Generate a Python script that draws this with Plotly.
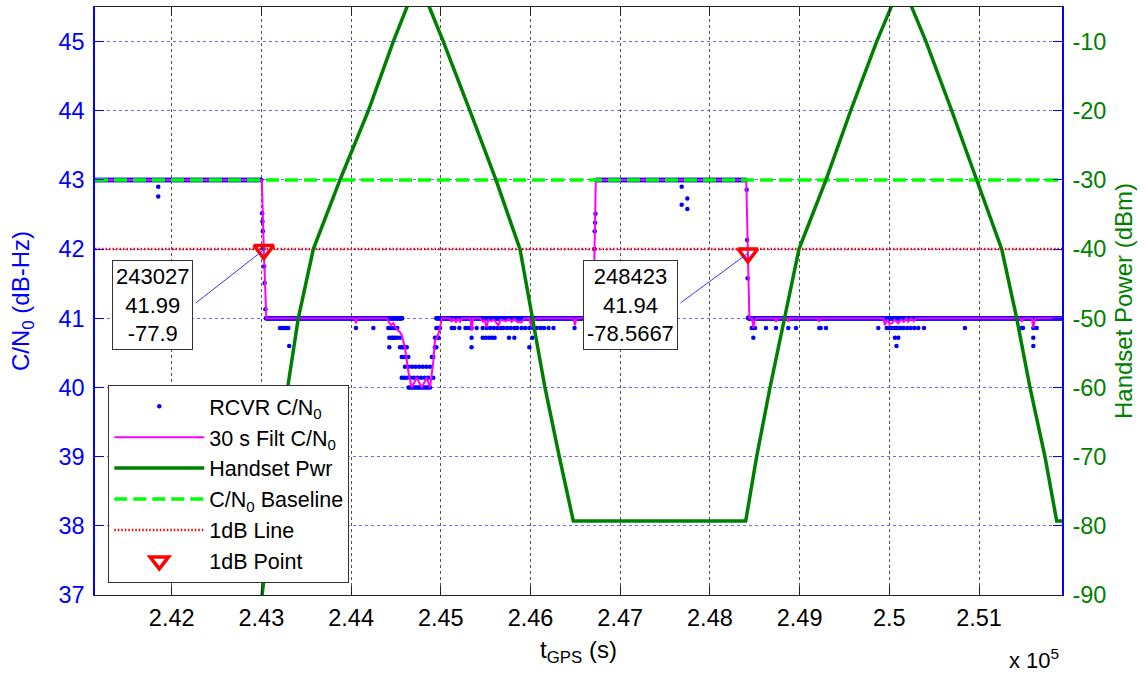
import numpy as np
import plotly.graph_objects as go

# ---------------- data ----------------
t_first, t_last = 241145, 251925          # time span shown (s)

# receiver C/N0: runs at a constant level (start s, end s, dB-Hz)
run_start = [241145, 243050, 244950, 246728, 248428]
run_end   = [243000, 244570, 246700, 248405, 251925]
run_level = [43.0, 41.0, 41.0, 43.0, 41.0]
run_step = 5  # s between plotted samples inside a run

# receiver C/N0: individual samples off the main level
dot_t = [241850, 241850,
         243008, 243012, 243016, 243022, 243030, 243036, 243045,
         243207, 243222, 243244, 243262, 243282, 243300, 243310,
         244054, 244248,
         244415, 244440, 244470, 244490, 244515,
         244426, 244450, 244470, 244490, 244510, 244545,
         244426, 244545, 244564, 244580, 244601, 244620,
         244564, 244590, 244610, 244638,
         244601, 244640, 244680, 244720, 244760, 244800, 244840, 244880,
         244564, 244590, 244620, 244660, 244700, 244740, 244780, 244820, 244860, 244916,
         244640, 244660, 244680, 244700, 244720, 244740, 244760, 244780, 244800, 244820, 244840, 244860, 244880,
         244900, 244916, 244935, 244950, 244935, 244955, 244975, 244950, 244975, 244991,
         245122, 245150, 245207, 245275, 245310, 245343, 245400, 245467, 245510, 245550, 245590,
         245630, 245670, 245700, 245740, 245780, 245820, 245851, 245900, 245940, 245987, 246030,
         246069, 246110, 246150, 246200, 246256, 246491,
         245343, 245467, 245500, 245535, 245570, 245600, 245760, 245820, 246020,
         245343, 245987,
         246705, 246708, 246712, 246716, 246720, 246724,
         247685, 247685, 247748, 247748,
         248410, 248415, 248420, 248428,
         248466, 248484, 248503, 248625, 248737, 248874, 248960, 249219, 249235, 249294,
         249877, 249971, 249990, 250010, 250030, 250063, 250080, 250100, 250130, 250160,
         250200, 250240, 250280, 250323, 250386, 250843, 251476, 251490, 251605, 251643,
         248484, 250063, 250100, 251605,
         250080, 251605]
dot_cn0 = [42.9, 42.76,
           42.52, 42.40, 42.26, 42.01, 41.75, 41.51, 41.13,
           40.86, 40.86, 40.86, 40.86, 40.86, 40.86, 40.6,
           40.86, 40.86,
           40.86, 40.86, 40.86, 40.86, 40.86,
           40.72, 40.72, 40.72, 40.72, 40.72, 40.72,
           40.58, 40.58, 40.58, 40.58, 40.58, 40.58,
           40.44, 40.44, 40.44, 40.44,
           40.30, 40.30, 40.30, 40.30, 40.30, 40.30, 40.30, 40.30,
           40.14, 40.14, 40.14, 40.14, 40.14, 40.14, 40.14, 40.14, 40.14, 40.14,
           40.0, 40.0, 40.0, 40.0, 40.0, 40.0, 40.0, 40.0, 40.0, 40.0, 40.0, 40.0, 40.0,
           40.44, 40.44, 40.58, 40.58, 40.72, 40.72, 40.72, 40.86, 40.86, 40.86,
           40.86, 40.86, 40.86, 40.86, 40.86, 40.86, 40.86, 40.86, 40.86, 40.86, 40.86,
           40.86, 40.86, 40.86, 40.86, 40.86, 40.86, 40.86, 40.86, 40.86, 40.86, 40.86,
           40.86, 40.86, 40.86, 40.86, 40.86, 40.86,
           40.72, 40.72, 40.72, 40.72, 40.72, 40.72, 40.72, 40.72, 40.72,
           40.58, 40.58,
           41.3, 41.6, 42.0, 42.26, 42.38, 42.51,
           42.9, 42.64, 42.73, 42.58,
           42.86, 42.13, 41.58, 41.01,
           40.86, 40.86, 40.86, 40.86, 40.86, 40.86, 40.86, 40.86, 40.86, 40.86,
           40.86, 40.86, 40.86, 40.86, 40.86, 40.86, 40.86, 40.86, 40.86, 40.86,
           40.86, 40.86, 40.86, 40.86, 40.86, 40.86, 40.86, 40.86, 40.86, 40.86,
           40.72, 40.72, 40.72, 40.72,
           40.6, 40.6]

# 30 s filtered C/N0 (polyline vertices)
filt_t = [241145, 243005, 243027, 243055,
          244040, 244054, 244068,
          244400, 244420, 244445, 244470, 244508, 244545, 244564, 244601, 244638, 244675,
          244731, 244787, 244843, 244880, 244916, 244935, 244960, 244983, 245012,
          245100, 245121, 245140, 245170, 245190, 245215, 245235,
          245330, 245343, 245360,
          245440, 245470, 245490, 245509, 245530, 245560, 245590, 245620, 245643, 245665,
          245700, 245730, 245760, 245790, 245820, 245850, 245900, 245930,
          245985, 246005, 246025, 246045, 246060,
          246480, 246496, 246510,
          246700, 246712, 246728,
          248405, 248421, 248440,
          248470, 248484, 248500, 248520,
          248725, 248737, 248750,
          248862, 248874, 248886,
          249207, 249219, 249232,
          249935, 249950, 249975, 250000, 250030, 250060, 250100, 250130, 250160, 250190,
          250210, 250240, 250270, 250300,
          251460, 251476, 251495, 251590, 251605, 251625, 251925]
filt_cn0 = [43.0, 43.0, 41.99, 41.0,
            41.0, 40.93, 41.0,
            41.0, 40.95, 40.9, 40.93, 40.84, 40.8, 40.76, 40.57, 40.23, 40.0,
            40.14, 40.0, 40.14, 40.0, 40.37, 40.68, 40.72, 40.82, 41.0,
            41.0, 40.95, 41.0, 40.94, 41.0, 40.95, 41.0,
            41.0, 40.82, 41.0,
            41.0, 40.95, 40.98, 40.87, 40.98, 40.96, 40.98, 40.93, 40.9, 40.98,
            40.97, 40.96, 40.99, 40.95, 40.99, 40.95, 40.94, 41.0,
            41.0, 40.89, 40.99, 40.97, 41.0,
            41.0, 40.9, 41.0,
            41.0, 42.0, 43.0,
            43.0, 41.94, 41.0,
            41.0, 40.86, 40.97, 41.0,
            41.0, 40.95, 41.0,
            41.0, 40.95, 41.0,
            41.0, 40.95, 41.0,
            41.0, 40.9, 40.98, 40.92, 40.93, 40.98, 40.93, 40.98, 40.95, 41.0,
            40.95, 41.0, 40.96, 41.0,
            41.0, 40.95, 41.0, 41.0, 40.86, 41.0, 41.0]

# handset transmit power (dBm), polyline vertices
pwr_t = [243003, 243096, 243200, 243293, 243411, 243579, 243876, 244192, 244470, 244620, 244745,
         244872, 245028, 245325, 245615, 245883, 246024, 246161, 246321, 246477,
         248399, 248521, 248670, 248829, 248993, 249294, 249569, 249859, 250026, 250150,
         250249, 250409, 250696, 250974, 251253, 251420, 251568, 251735, 251866, 251925]
pwr_dbm = [-90.5, -80, -70, -60, -50, -40, -30, -20, -10, -5, -1,
           -5, -10, -20, -30, -40, -50, -60, -70, -79.3,
           -79.3, -70, -60, -50, -40, -30, -20, -10, -5, -1,
           -5, -10, -20, -30, -40, -50, -60, -70, -79.3, -79.3]

baseline_cn0 = 43.0
one_db_cn0 = 42.0

# 1 dB points (time, C/N0, handset power)
pt_t = [243027, 248423]
pt_cn0 = [41.99, 41.94]
pt_pwr = ['-77.9', '-78.5667']

# axis ticks
xtick_vals = [242000, 243000, 244000, 245000, 246000, 247000, 248000, 249000, 250000, 251000]
xtick_text = ['2.42', '2.43', '2.44', '2.45', '2.46', '2.47', '2.48', '2.49', '2.5', '2.51']
ytick_vals = [37, 38, 39, 40, 41, 42, 43, 44, 45]
y2tick_vals = [-90, -80, -70, -60, -50, -40, -30, -20, -10]
y2tick_text = ['-90', '-80', '-70', '-60', '-50', '-40', '-30', '-20', '-10']

y_lo, y_hi = 37.0, 45.5
y2_lo, y2_hi = -90, -5

# ---------------- build ----------------
rc_t, rc_v = [], []
for s, e, lv in zip(run_start, run_end, run_level):
    tt = np.arange(s, e + 1, run_step)
    rc_t.extend(tt.tolist())
    rc_v.extend([lv] * len(tt))
rc_t.extend(dot_t)
rc_v.extend(dot_cn0)

FONT = 'Arial, "Liberation Sans", sans-serif'
BLUE = '#0000ff'
DGREEN = '#008000'

fig = go.Figure()
fig.add_trace(go.Scatter(x=rc_t, y=rc_v, mode='markers', name='RCVR C/N<sub>0</sub>',
                         marker=dict(color=BLUE, size=4.5, line=dict(width=0))))
fig.add_trace(go.Scatter(x=filt_t, y=filt_cn0, mode='lines', name='30 s Filt C/N<sub>0</sub>',
                         line=dict(color='#ff00ff', width=2)))
fig.add_trace(go.Scatter(x=pwr_t, y=pwr_dbm, mode='lines', name='Handset Pwr', yaxis='y2',
                         line=dict(color=DGREEN, width=3.5)))
fig.add_trace(go.Scatter(x=[t_first, t_last], y=[baseline_cn0, baseline_cn0], mode='lines',
                         name='C/N<sub>0</sub> Baseline',
                         line=dict(color='#00ff00', width=3.5, dash='13px,6px')))
fig.add_trace(go.Scatter(x=[t_first, t_last], y=[one_db_cn0, one_db_cn0], mode='lines',
                         name='1dB Line', line=dict(color='#ff0000', width=2.5, dash='1.5px,2px')))
fig.add_trace(go.Scatter(x=pt_t, y=pt_cn0, mode='markers', name='1dB Point',
                         marker=dict(symbol='triangle-down-open', size=17, color='#ff0000',
                                     line=dict(width=3.5, color='#ff0000'))))

PL, PR, PT, PB = 95, 1062, 7, 595


def paper_x(px):
    return (px - PL) / (PR - PL)


def paper_y(py):
    return (PB - py) / (PB - PT)


def data_x(px):
    return t_first + (px - PL) / (PR - PL) * (t_last - t_first)


def data_y(py):
    return y_lo + (PB - py) / (PB - PT) * (y_hi - y_lo)


annotations = []
shapes = []
box_centers_px = [(152.7, 304.6), (630.3, 304.6)]
connector_tail_px = [(195.8, 303.0), (680.5, 303.0)]
for i in range(len(pt_t)):
    cx, cy = box_centers_px[i]
    # connector line from the box edge to the 1 dB point
    tx, ty = connector_tail_px[i]
    shapes.append(dict(type='line', xref='x', yref='y', x0=data_x(tx), y0=data_y(ty),
                       x1=pt_t[i], y1=pt_cn0[i], line=dict(color='#3333ff', width=1), layer='above'))
    annotations.append(dict(
        xref='paper', yref='paper', x=paper_x(cx), y=paper_y(cy),
        xanchor='center', yanchor='middle', showarrow=False,
        text=f'{pt_t[i]}<br>{pt_cn0[i]:.2f}<br>{pt_pwr[i]}', align='center',
        font=dict(family=FONT, size=22, color='black'),
        bgcolor='white', bordercolor='#333333', borderwidth=1, borderpad=3))

annotations.append(dict(xref='paper', yref='paper', x=paper_x(1061), y=paper_y(675),
                        xanchor='right', yanchor='bottom', showarrow=False,
                        text='x 10<sup>5</sup>', font=dict(family=FONT, size=22, color='black')))

fig.update_layout(
    width=1146, height=677,
    margin=dict(l=PL, r=1146 - PR, t=PT, b=677 - PB),
    plot_bgcolor='white', paper_bgcolor='white',
    font=dict(family=FONT, size=21, color='black'),
    showlegend=True,
    legend=dict(x=paper_x(108.3), y=paper_y(582.7), xanchor='left', yanchor='bottom',
                bgcolor='white', bordercolor='#333333', borderwidth=1,
                font=dict(family=FONT, size=21.5, color='black'), itemwidth=90,
                tracegroupgap=0),
    annotations=annotations,
    shapes=shapes,
    xaxis=dict(range=[t_first, t_last], tickmode='array', tickvals=xtick_vals, ticktext=xtick_text,
               ticks='inside', ticklen=9, tickwidth=1, tickcolor='#222222',
               showline=True, linecolor='#222222', linewidth=1, mirror='ticks',
               showgrid=True, gridcolor='#555555', griddash='dot', gridwidth=1, zeroline=False,
               tickfont=dict(family=FONT, size=23.5, color='black'), ticklabelstandoff=2,
               title=dict(text='t<sub>GPS</sub> (s)', font=dict(family=FONT, size=24, color='black'),
                          standoff=10)),
    yaxis=dict(range=[y_lo, y_hi], tickmode='array', tickvals=ytick_vals,
               ticks='inside', ticklen=9, tickwidth=1, tickcolor=BLUE,
               showline=True, linecolor=BLUE, linewidth=1.5,
               showgrid=True, gridcolor='#6a6aff', griddash='dot', gridwidth=1, zeroline=False,
               tickfont=dict(family=FONT, size=23.5, color=BLUE), ticklabelstandoff=4,
               title=dict(text='C/N<sub>0</sub> (dB-Hz)', font=dict(family=FONT, size=24, color=BLUE),
                          standoff=22)),
    yaxis2=dict(range=[y2_lo, y2_hi], overlaying='y', side='right', tickmode='array',
                tickvals=y2tick_vals, ticktext=y2tick_text,
                ticks='inside', ticklen=9, tickwidth=1, tickcolor=BLUE,
                showline=True, linecolor=BLUE, linewidth=1.5,
                showgrid=False, zeroline=False,
                tickfont=dict(family=FONT, size=23.5, color=DGREEN), ticklabelstandoff=4,
                title=dict(text='Handset Power (dBm)', font=dict(family=FONT, size=24, color=DGREEN),
                           standoff=10)),
)

fig.write_html("out.html", config={'displayModeBar': False},
               post_script="document.body.style.margin='0';")
